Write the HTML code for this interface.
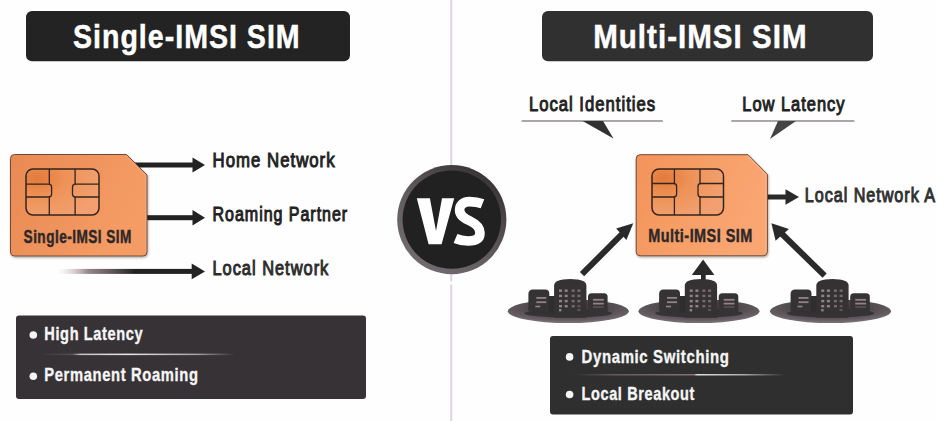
<!DOCTYPE html>
<html><head><meta charset="utf-8">
<style>
html,body{margin:0;padding:0;background:#fefefe;width:937px;height:421px;overflow:hidden}
svg{display:block}
text{font-family:"Liberation Sans",sans-serif;font-weight:bold}
text[font-weight="normal"]{font-weight:normal}
</style></head>
<body>
<svg width="937" height="421" viewBox="0 0 937 421">
<defs>
  <linearGradient id="simL" x1="0" y1="0" x2="1" y2="0.35">
    <stop offset="0" stop-color="#e98a53"/>
    <stop offset="0.5" stop-color="#ef935c"/>
    <stop offset="1" stop-color="#f59c65"/>
  </linearGradient>
  <linearGradient id="simR" x1="0" y1="0" x2="1" y2="0.35">
    <stop offset="0" stop-color="#f2935a"/>
    <stop offset="0.5" stop-color="#f69e66"/>
    <stop offset="1" stop-color="#faa673"/>
  </linearGradient>
  <radialGradient id="chipg" cx="0.15" cy="0.2" r="0.9">
    <stop offset="0" stop-color="#e37a3a"/>
    <stop offset="0.45" stop-color="#ee9358"/>
    <stop offset="1" stop-color="#f2a070"/>
  </radialGradient>
  <filter id="sh" x="-10%" y="-10%" width="120%" height="125%">
    <feDropShadow dx="0.6" dy="1.2" stdDeviation="0.8" flood-color="#000" flood-opacity="0.35"/>
  </filter>
  <linearGradient id="fadeL" x1="57" y1="0" x2="135" y2="0" gradientUnits="userSpaceOnUse">
    <stop offset="0" stop-color="#d8c8d0" stop-opacity="0"/>
    <stop offset="0.4" stop-color="#857078" stop-opacity="0.85"/>
    <stop offset="1" stop-color="#222" stop-opacity="1"/>
  </linearGradient>
  <linearGradient id="ring" x1="0.2" y1="0.9" x2="0.8" y2="0.1">
    <stop offset="0" stop-color="#716a6e"/>
    <stop offset="0.5" stop-color="#5e585b"/>
    <stop offset="1" stop-color="#3a3637"/>
  </linearGradient>
  <radialGradient id="disc" cx="0.5" cy="0.35" r="0.62">
    <stop offset="0" stop-color="#383436"/>
    <stop offset="0.5" stop-color="#4c4749"/>
    <stop offset="0.85" stop-color="#645d61"/>
    <stop offset="1" stop-color="#776f73"/>
  </radialGradient>
  <linearGradient id="divL" x1="0" y1="0" x2="1" y2="0">
    <stop offset="0" stop-color="#fff" stop-opacity="0"/>
    <stop offset="0.17" stop-color="#fff" stop-opacity="0.15"/>
    <stop offset="0.21" stop-color="#fff" stop-opacity="0.7"/>
    <stop offset="0.45" stop-color="#fff" stop-opacity="0.9"/>
    <stop offset="0.8" stop-color="#fff" stop-opacity="0.55"/>
    <stop offset="1" stop-color="#fff" stop-opacity="0"/>
  </linearGradient>
  <linearGradient id="divR" x1="0" y1="0" x2="1" y2="0">
    <stop offset="0" stop-color="#c9a9b4" stop-opacity="0"/>
    <stop offset="0.2" stop-color="#c9a9b4" stop-opacity="0.35"/>
    <stop offset="0.57" stop-color="#c9a9b4" stop-opacity="0.55"/>
    <stop offset="0.585" stop-color="#fff" stop-opacity="0.85"/>
    <stop offset="0.8" stop-color="#fff" stop-opacity="0.6"/>
    <stop offset="1" stop-color="#fff" stop-opacity="0"/>
  </linearGradient>

  <g id="city">
    <ellipse cx="0" cy="-0.3" rx="60.5" ry="11.9" fill="url(#disc)"/>
    <ellipse cx="0" cy="1.8" rx="44" ry="4.2" fill="#2f2c2e" opacity="0.8"/>
    <path d="M-39.9 -0.5V-17.5Q-39.9 -22.1 -35.3 -22.1H-23.2Q-19 -22.1 -19 -18V-0.5Z" fill="#363335"/>
    <rect x="-19.5" y="-15.5" width="6" height="16" fill="#302d2f"/>
    <path d="M19.7 2.5V-14.7Q19.7 -18.3 23.3 -18.3H35.8Q39.3 -18.3 39.3 -14.7V2.5Z" fill="#363335"/>
    <path d="M-14.2 6.3V-26Q-14.2 -32.5 2 -32.5Q18.1 -32.5 18.1 -26V6.3Z" fill="#353234"/>
    <g fill="#928289">
      <rect x="-9.3" y="-22" width="3" height="2.4"/><rect x="-3.6" y="-22" width="3" height="2.4"/>
      <rect x="-9.3" y="-16.8" width="3" height="2.4"/><rect x="-3.6" y="-16.8" width="3" height="2.4"/>
      <rect x="-9.3" y="-11.6" width="3" height="2.4"/><rect x="-3.6" y="-11.6" width="3" height="2.4"/>
      <rect x="-9.3" y="-6.5" width="3" height="2.4"/><rect x="-3.6" y="-6.5" width="3" height="2.4"/>
      <rect x="-9.3" y="-2.5" width="2.4" height="2.4"/>
      <rect x="-32" y="-14.5" width="10" height="1.8"/><rect x="-32" y="-10.2" width="10" height="1.8"/><rect x="-33" y="-5.8" width="5" height="1.6"/>
      <rect x="24.7" y="-12.6" width="10.8" height="1.8"/><rect x="24.7" y="-8.8" width="10.8" height="1.8"/>
    </g>
    <g fill="#756a6f">
      <rect x="3.4" y="-22" width="3" height="2.4"/><rect x="9.1" y="-22" width="3" height="2.4"/>
      <rect x="3.4" y="-16.8" width="3" height="2.4"/><rect x="9.1" y="-16.8" width="3" height="2.4"/>
      <rect x="3.4" y="-11.6" width="3" height="2.4"/><rect x="9.1" y="-11.6" width="3" height="2.4"/>
      <rect x="3.4" y="-6.5" width="3" height="2.4"/>
    </g>
    <g fill="#5e5559">
      <rect x="9.1" y="-6.5" width="3" height="2.4"/><rect x="9.1" y="-2.5" width="3" height="2"/>
      <rect x="24.7" y="-5.2" width="10.8" height="1.4"/>
    </g>
  </g>
</defs>

<!-- divider -->
<rect x="450.3" y="0" width="1.9" height="421" fill="#ddd2dd"/>
<rect x="449" y="281.5" width="5" height="3" fill="#fefefe"/>

<!-- titles -->
<rect x="26" y="11" width="324" height="50.3" rx="6" fill="#232323"/>
<text x="73.00" y="48.4" font-size="34" fill="#fff" letter-spacing="1.2" stroke="#fff" stroke-width="0.5" textLength="227.60" lengthAdjust="spacingAndGlyphs">Single-IMSI SIM</text>
<rect x="542" y="11" width="331" height="50.3" rx="6" fill="#303030"/>
<text x="593.20" y="48.4" font-size="34" fill="#fff" letter-spacing="1.2" stroke="#fff" stroke-width="0.5" textLength="214.40" lengthAdjust="spacingAndGlyphs">Multi-IMSI SIM</text>

<!-- left SIM -->
<rect x="135" y="162.5" width="58" height="5" fill="#222"/>
<polygon points="192.5,157.5 205,165 192.5,172.5" fill="#222"/>
<rect x="145" y="215.2" width="48" height="5" fill="#222"/>
<polygon points="192.5,210 205,217.7 192.5,225.4" fill="#222"/>
<rect x="57" y="268.9" width="136" height="5" fill="url(#fadeL)"/>
<polygon points="191.7,263.5 205,271.4 191.7,279.3" fill="#222"/>

<path d="M14.5 154.5H126.5L147 175V252Q147 256 143 256H14.5Q10.5 256 10.5 252V158.5Q10.5 154.5 14.5 154.5Z" fill="url(#simL)" stroke="#6e4a38" stroke-width="1" filter="url(#sh)"/>
<path d="M126 155.8L145.6 175.4V252" stroke="#f7a878" stroke-width="1.2" fill="none" opacity="0.8"/>
<g>
  <rect x="26" y="169" width="73" height="46" rx="7" ry="7" fill="url(#chipg)" stroke="#33241c" stroke-width="1.5"/>
  <path d="M49.3 169V184.2M49.3 197V215M75.1 169V184.2M75.1 197V215" stroke="#33241c" stroke-width="1.3" fill="none"/>
  <path d="M26 184.2H48.6Q51.6 184.2 51.6 187.2V194Q51.6 197 48.6 197H26" stroke="#33241c" stroke-width="1.3" fill="none"/>
  <path d="M99 184.2H75.5Q72.5 184.2 72.5 187.2V194Q72.5 197 75.5 197H99" stroke="#33241c" stroke-width="1.3" fill="none"/>
</g>
<text x="23.60" y="242.5" font-size="18" fill="#2e2828" letter-spacing="0.6" stroke="#2e2828" stroke-width="0.45" textLength="108.20" lengthAdjust="spacingAndGlyphs">Single-IMSI SIM</text>

<text x="212.60" y="166.8" font-size="20" fill="#222" font-weight="normal" letter-spacing="1.2" stroke="#222" stroke-width="1" textLength="123.00" lengthAdjust="spacingAndGlyphs">Home Network</text>
<text x="212.60" y="220.8" font-size="20" fill="#222" font-weight="normal" letter-spacing="1.2" stroke="#222" stroke-width="1" textLength="135.50" lengthAdjust="spacingAndGlyphs">Roaming Partner</text>
<text x="212.40" y="274.8" font-size="20" fill="#2c2c2c" font-weight="normal" letter-spacing="1.2" stroke="#2c2c2c" stroke-width="1" textLength="116.90" lengthAdjust="spacingAndGlyphs">Local Network</text>

<!-- left box -->
<rect x="16" y="315.5" width="350" height="83.5" rx="3" fill="#373236"/>
<circle cx="33.3" cy="335" r="3.8" fill="#f4f4f4"/>
<text x="44.30" y="340.4" font-size="18.5" fill="#f6f6f6" letter-spacing="0.8" stroke="#f6f6f6" stroke-width="0.35" textLength="99.00" lengthAdjust="spacingAndGlyphs">High Latency</text>
<rect x="39" y="353.6" width="196" height="1.5" fill="url(#divL)"/>
<circle cx="33.3" cy="376.3" r="3.8" fill="#f4f4f4"/>
<text x="44.30" y="381.2" font-size="18.5" fill="#f6f6f6" letter-spacing="0.8" stroke="#f6f6f6" stroke-width="0.35" textLength="154.30" lengthAdjust="spacingAndGlyphs">Permanent Roaming</text>

<!-- VS -->
<circle cx="451.8" cy="219.6" r="54.6" fill="url(#ring)"/>
<circle cx="451.8" cy="219.6" r="49.2" fill="#212121"/>
<polygon points="416.8,198.2 429.9,198.2 436,231 442,198.2 454.2,198.2 441.6,244.3 428.6,244.3" fill="#fff"/>
<path d="M482.5 203.8C478 202 473.5 201.6 469.5 201.6C462.5 201.6 459.6 205.5 459.6 210C459.6 215.5 464 218.2 470 221C477 224.3 480 228 480 233C480 239 475 241 468 241C463 241 459 240 455.5 238.5" fill="none" stroke="#fff" stroke-width="9.6"/>

<!-- right callouts -->
<text x="528.90" y="111.1" font-size="20" fill="#222" font-weight="normal" letter-spacing="1.2" stroke="#222" stroke-width="1" textLength="127.20" lengthAdjust="spacingAndGlyphs">Local Identities</text>
<rect x="521.6" y="120.2" width="141.2" height="1.6" fill="#969196"/>
<polygon points="582.6,121 603,121 613.5,138.6" fill="#313131"/>
<text x="742.30" y="111.3" font-size="20" fill="#222" font-weight="normal" letter-spacing="1.2" stroke="#222" stroke-width="1" textLength="103.20" lengthAdjust="spacingAndGlyphs">Low Latency</text>
<rect x="731.3" y="120.2" width="123.1" height="1.6" fill="#969196"/>
<polygon points="778,121 796,121 770,139" fill="#444"/>

<!-- right SIM -->
<rect x="765" y="194.5" width="22" height="5" fill="#2a2a2a"/>
<polygon points="785.5,189.2 799,197 785.5,204.8" fill="#2a2a2a"/>
<path d="M640.2 154.7H748L767.4 174.3V251.8Q767.4 255.8 763.4 255.8H640.2Q636.2 255.8 636.2 251.8V158.7Q636.2 154.7 640.2 154.7Z" fill="url(#simR)" stroke="#6e4a38" stroke-width="1" filter="url(#sh)"/>
<path d="M747.5 156L766 174.6V252" stroke="#fbb68a" stroke-width="1.2" fill="none" opacity="0.8"/>
<g>
  <rect x="652" y="169" width="71.5" height="46" rx="7" ry="7" fill="url(#chipg)" stroke="#33241c" stroke-width="1.5"/>
  <path d="M674.4 169V183.5M674.4 197V215M700 169V183.5M700 197V215" stroke="#33241c" stroke-width="1.3" fill="none"/>
  <path d="M652 183.5H673.6Q676.6 183.5 676.6 186.5V194Q676.6 197 673.6 197H652" stroke="#33241c" stroke-width="1.3" fill="none"/>
  <path d="M723.5 183.5H701Q698 183.5 698 186.5V194Q698 197 701 197H723.5" stroke="#33241c" stroke-width="1.3" fill="none"/>
</g>
<text x="648.30" y="242.1" font-size="18" fill="#2e2828" letter-spacing="0.6" stroke="#2e2828" stroke-width="0.45" textLength="104.50" lengthAdjust="spacingAndGlyphs">Multi-IMSI SIM</text>
<text x="804.80" y="201.5" font-size="20" fill="#303030" font-weight="normal" letter-spacing="1.2" stroke="#303030" stroke-width="1" textLength="131.20" lengthAdjust="spacingAndGlyphs">Local Network A</text>

<!-- diagonal arrows -->
<line x1="582" y1="274.2" x2="622" y2="234.2" stroke="#2a2a2a" stroke-width="6"/>
<polygon points="633.3,223.3 616.2,228.4 626.4,240" fill="#2a2a2a"/>
<line x1="824.6" y1="275.6" x2="782" y2="234" stroke="#2a2a2a" stroke-width="6"/>
<polygon points="771.4,223.3 788.9,229 775.6,240.8" fill="#2a2a2a"/>
<rect x="701" y="273" width="4.7" height="8" fill="#2a2a2a"/>
<polygon points="703.1,259.6 691.8,275 714.4,275" fill="#2a2a2a"/>

<!-- cities -->
<use href="#city" transform="translate(568.3 311.5)"/>
<use href="#city" transform="translate(699 311.5)"/>
<use href="#city" transform="translate(830.5 311.5)"/>

<!-- right box -->
<rect x="550" y="336" width="303" height="78.4" rx="3" fill="#2f2f2f"/>
<circle cx="569.6" cy="356.9" r="3.8" fill="#f4f4f4"/>
<text x="581.50" y="362.8" font-size="18.5" fill="#f6f6f6" letter-spacing="0.8" stroke="#f6f6f6" stroke-width="0.35" textLength="148.00" lengthAdjust="spacingAndGlyphs">Dynamic Switching</text>
<rect x="573" y="374" width="212" height="1.5" fill="url(#divR)"/>
<circle cx="569.6" cy="394.5" r="3.8" fill="#f4f4f4"/>
<text x="581.50" y="400.3" font-size="18.5" fill="#f6f6f6" letter-spacing="0.8" stroke="#f6f6f6" stroke-width="0.35" textLength="113.50" lengthAdjust="spacingAndGlyphs">Local Breakout</text>
</svg>
</body></html>
